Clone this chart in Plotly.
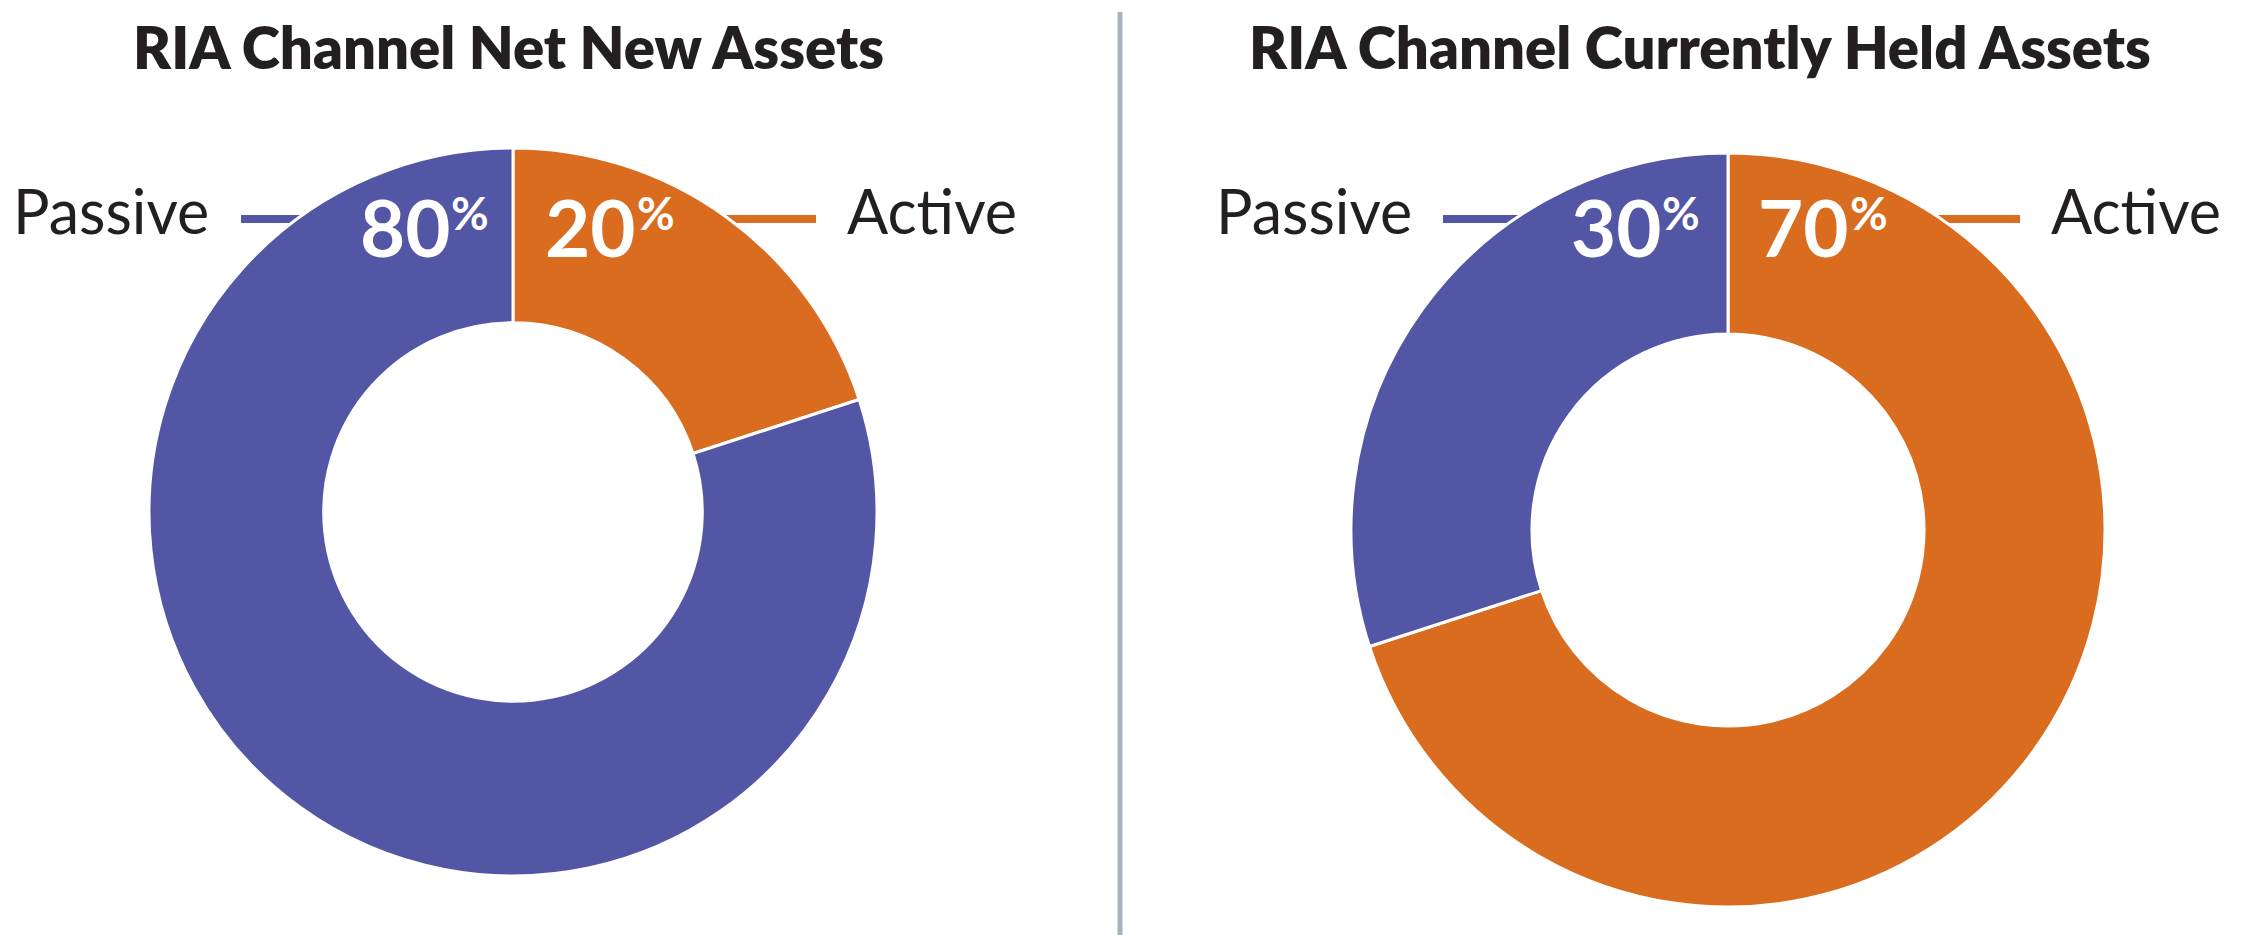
import plotly.graph_objects as go

W, H = 2245, 935

categories = ["Active", "Passive"]
net_new_values = [20, 80]
held_values = [70, 30]
chart_titles = ["RIA Channel Net New Assets", "RIA Channel Currently Held Assets"]

colors = {"Active": "#D96C1E", "Passive": "#5256A5"}
divider_color = "#A9B2B9"
text_color = "#231F20"
FONT = "Lato, 'Open Sans', sans-serif"


def px(x):
    return x / W


def py(y):
    return 1 - y / H


# layout (pixel) settings for each donut
donuts = [
    dict(cx=513, cy=512, r=364, values=net_new_values, title=chart_titles[0], title_x=508,
         passive_label_right=211, passive_line_left=241, num_left_right=491,
         num_right_left=543, active_line_right=816, active_label_left=845),
    dict(cx=1728, cy=530, r=377, values=held_values, title=chart_titles[1], title_x=1700,
         passive_label_right=1414, passive_line_left=1443, num_left_right=1702,
         num_right_left=1756, active_line_right=2020, active_label_left=2049),
]

fig = go.Figure()
annotations = []
shapes = []

TITLE_Y = 46
LABEL_Y = 210
NUM_Y = 227
PCT_Y = 213
LINE_Y = 219
NUM_SIZE = 78
PCT_SIZE = 46
PCT_W = 39      # room taken by the % sign
DIGITS_W = 92   # room taken by two digits


def add_value(v, x, anchor):
    """Big white number with a small raised % sign."""
    if anchor == "right":
        pct_x, num_x = x, x - PCT_W
    else:
        num_x, pct_x = x, x + DIGITS_W
    annotations.append(dict(
        text="<b>%d</b>" % v, x=px(num_x), y=py(NUM_Y), xref="paper", yref="paper",
        xanchor=anchor, yanchor="middle", showarrow=False,
        font=dict(family=FONT, size=NUM_SIZE, color="white"),
    ))
    annotations.append(dict(
        text="<b>%</b>", x=px(pct_x), y=py(PCT_Y), xref="paper", yref="paper",
        xanchor=anchor, yanchor="middle", showarrow=False,
        font=dict(family=FONT, size=PCT_SIZE, color="white"),
    ))


for d in donuts:
    cx, cy, r = d["cx"], d["cy"], d["r"]
    fig.add_trace(go.Pie(
        labels=categories,
        values=d["values"],
        hole=0.52,
        sort=False,
        direction="clockwise",
        rotation=0,
        marker=dict(colors=[colors[c] for c in categories], line=dict(color="white", width=3)),
        textinfo="none",
        hoverinfo="label+percent",
        showlegend=False,
        domain=dict(x=[px(cx - r), px(cx + r)], y=[py(cy + r), py(cy - r)]),
    ))

    annotations.append(dict(
        text=d["title"], x=px(d["title_x"]), y=py(TITLE_Y), xref="paper", yref="paper",
        xanchor="center", yanchor="middle", showarrow=False,
        font=dict(family=FONT, size=58, color=text_color, weight=800),
    ))

    dy = cy - LINE_Y
    dx = (r * r - dy * dy) ** 0.5
    left_edge = cx - dx
    right_edge = cx + dx

    active_val, passive_val = d["values"][0], d["values"][1]

    # Passive side
    shapes.append(dict(type="line", xref="paper", yref="paper",
                       x0=px(d["passive_line_left"]), x1=px(left_edge + 6), y0=py(LINE_Y), y1=py(LINE_Y),
                       line=dict(color=colors["Passive"], width=8), layer="below"))
    annotations.append(dict(
        text="Passive", x=px(d["passive_label_right"]), y=py(LABEL_Y), xref="paper", yref="paper",
        xanchor="right", yanchor="middle", showarrow=False,
        font=dict(family=FONT, size=61, color=text_color),
    ))
    add_value(passive_val, d["num_left_right"], "right")

    # Active side
    shapes.append(dict(type="line", xref="paper", yref="paper",
                       x0=px(right_edge - 6), x1=px(d["active_line_right"]), y0=py(LINE_Y), y1=py(LINE_Y),
                       line=dict(color=colors["Active"], width=8), layer="below"))
    annotations.append(dict(
        text="Active", x=px(d["active_label_left"]), y=py(LABEL_Y), xref="paper", yref="paper",
        xanchor="left", yanchor="middle", showarrow=False,
        font=dict(family=FONT, size=61, color=text_color),
    ))
    add_value(active_val, d["num_right_left"], "left")

shapes.append(dict(type="line", xref="paper", yref="paper",
                   x0=px(1120), x1=px(1120), y0=py(12), y1=py(935),
                   line=dict(color=divider_color, width=5)))

fig.update_layout(
    width=W, height=H,
    margin=dict(l=0, r=0, t=0, b=0),
    paper_bgcolor="white", plot_bgcolor="white",
    annotations=annotations, shapes=shapes,
    showlegend=False,
)

fig.write_html("out.html", config={"displayModeBar": False},
               post_script="document.body.style.margin='0';")
